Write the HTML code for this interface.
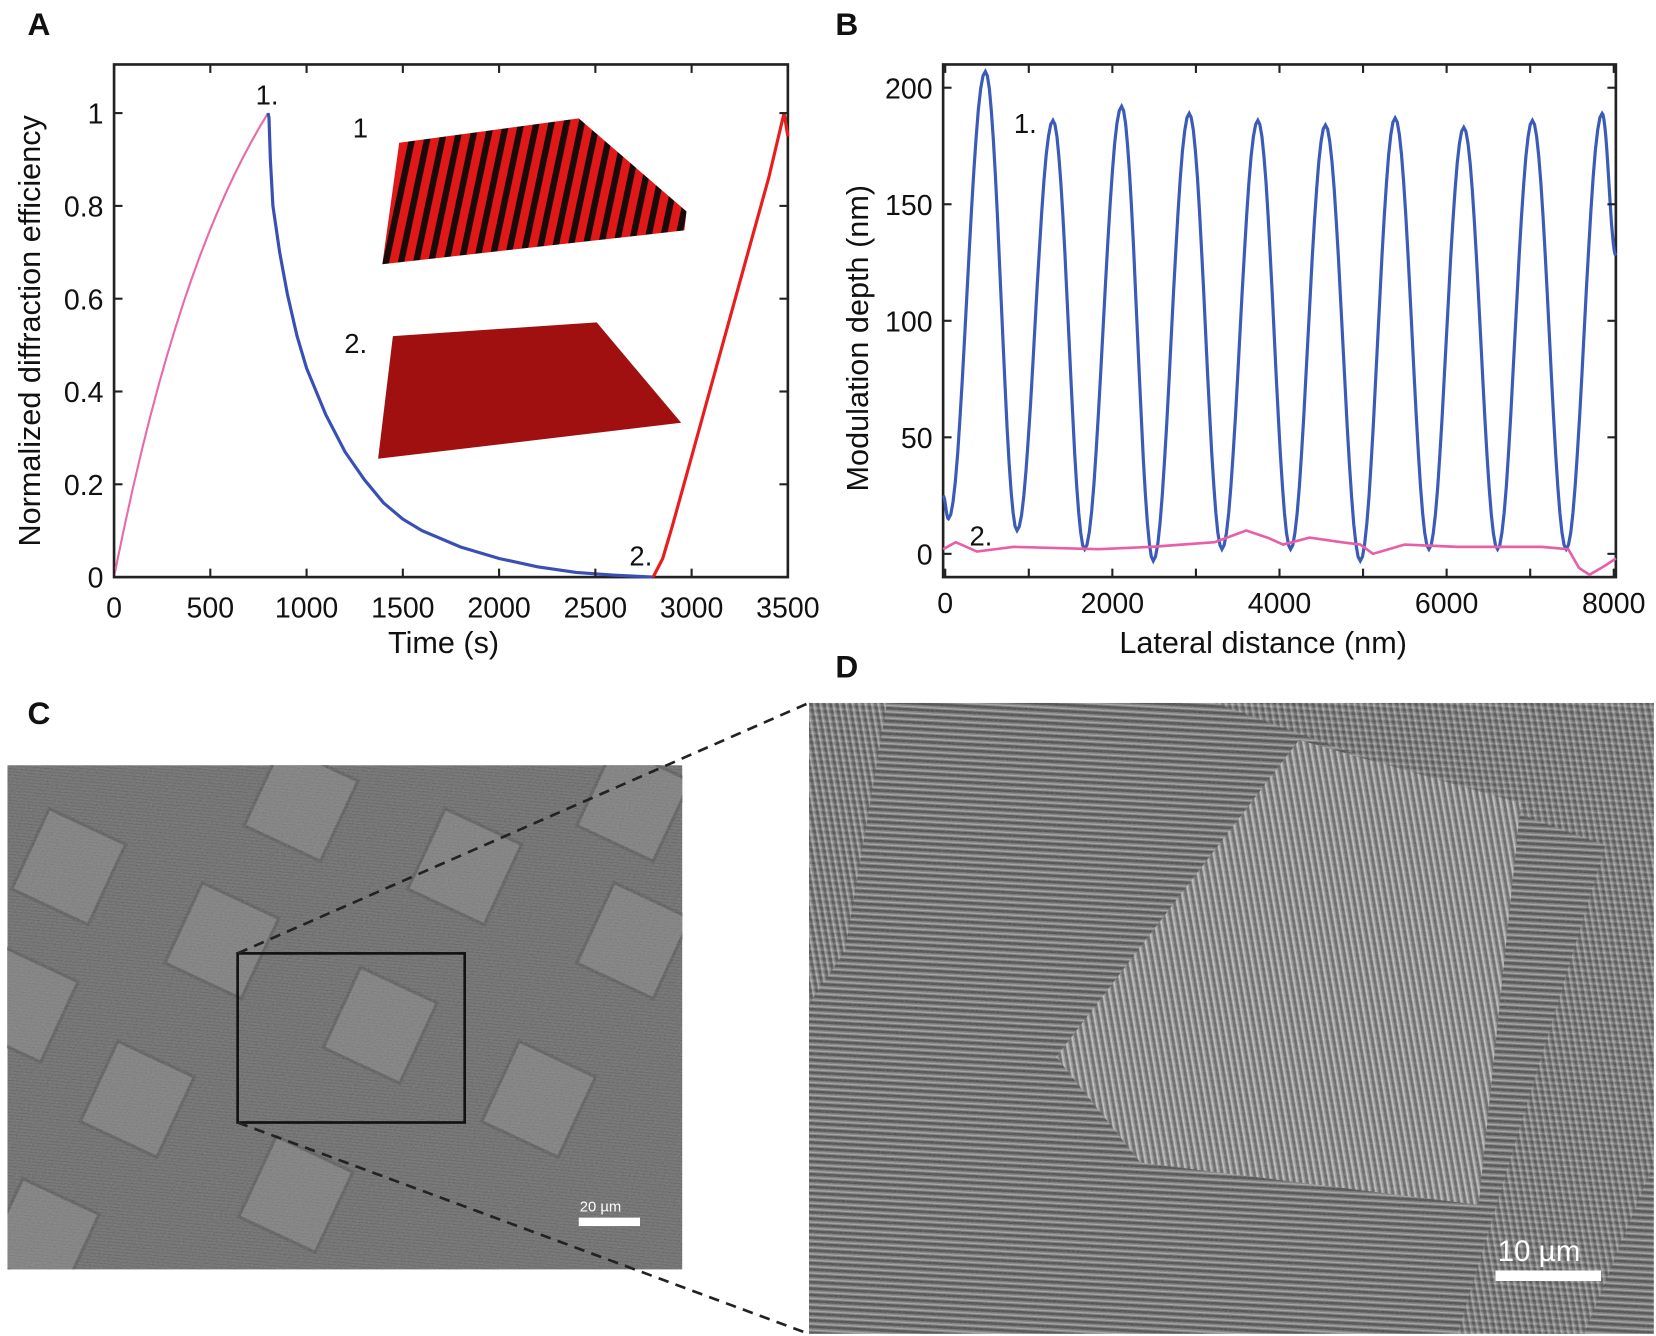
<!DOCTYPE html>
<html><head><meta charset="utf-8"><style>
html,body{margin:0;padding:0;background:#fff;}
svg{display:block;}
text{font-family:"Liberation Sans",sans-serif;fill:#111;}
</style></head><body>
<svg id="s" width="1656" height="1336" viewBox="0 0 1568 1264" preserveAspectRatio="none" xmlns="http://www.w3.org/2000/svg">
<defs>
<pattern id="grat" width="14" height="14" patternUnits="userSpaceOnUse" patternTransform="rotate(12)">
<rect width="14" height="14" fill="#e01818"/><rect width="6" height="14" fill="#1a0a0a"/>
</pattern>
<filter id="noise" x="0" y="0" width="100%" height="100%">
<feTurbulence type="fractalNoise" baseFrequency="0.45 0.9" numOctaves="2" seed="3"/>
<feColorMatrix type="matrix" values="0 0 0 0 0.5  0 0 0 0 0.5  0 0 0 0 0.5  0.9 0 0 0 0"/>
</filter>
<pattern id="lines" width="6" height="6" patternUnits="userSpaceOnUse" patternTransform="rotate(3)">
<rect width="6" height="6" fill="#7a7a7a"/><rect width="6" height="2.5" fill="#4a4a4a"/><rect y="4" width="6" height="1" fill="#a8a8a8"/>
</pattern>
<pattern id="lines2" width="6" height="6" patternUnits="userSpaceOnUse" patternTransform="rotate(80)">
<rect width="6" height="6" fill="#8a8a8a"/><rect width="6" height="2.5" fill="#4a4a4a"/><rect y="4" width="6" height="1.3" fill="#c8c8c8"/>
</pattern>
<pattern id="cpat" width="3" height="3" patternUnits="userSpaceOnUse" patternTransform="rotate(5)">
<rect width="3" height="3" fill="#6e6e6e"/><rect width="3" height="1" fill="#5a5a5a"/>
</pattern>
<clipPath id="clipD"><rect x="766" y="665" width="800" height="597"/></clipPath>
<clipPath id="clipC"><rect x="7" y="724" width="639" height="477"/></clipPath>
</defs>

<text x="26" y="33" font-size="30" font-weight="bold">A</text>
<text x="791" y="33" font-size="30" font-weight="bold">B</text>
<text x="26" y="685" font-size="30" font-weight="bold">C</text>
<text x="791" y="641" font-size="30" font-weight="bold">D</text>

<g id="A">
<rect x="108" y="61" width="638" height="485" fill="none" stroke="#222" stroke-width="2.5"/>
<polygon points="378,135 548,112 650,200 648,218 362,250" fill="url(#grat)"/>
<polygon points="372,318 565,305 645,400 358,434" fill="#a01010"/>
<path id="pA1" fill="none" stroke="#e86aa8" stroke-width="2"/>
<path id="pA2" fill="none" stroke="#3a4fb5" stroke-width="3"/>
<path id="pA3" fill="none" stroke="#e81e1e" stroke-width="3"/>
<text x="242" y="99" font-size="26">1.</text>
<text x="334" y="130" font-size="26">1</text>
<text x="326" y="334" font-size="26">2.</text>
<text x="596" y="535" font-size="26">2.</text>
<text x="420" y="618" font-size="29" text-anchor="middle">Time (s)</text>
<text transform="translate(38,313) rotate(-90)" font-size="29" text-anchor="middle">Normalized diffraction efficiency</text>
<g id="tA"></g>
</g>

<g id="B">
<rect x="893" y="61" width="637" height="485" fill="none" stroke="#222" stroke-width="2.5"/>
<path id="pB1" fill="none" stroke="#3a5bb8" stroke-width="3"/>
<path id="pB2" fill="none" stroke="#e85fa8" stroke-width="2.5"/>
<text x="960" y="126" font-size="26">1.</text>
<text x="918" y="516" font-size="26">2.</text>
<text x="1196" y="618" font-size="29" text-anchor="middle">Lateral distance (nm)</text>
<text transform="translate(822,320) rotate(-90)" font-size="29" text-anchor="middle">Modulation depth (nm)</text>
<g id="tB"></g>
</g>

<g clip-path="url(#clipC)">
<rect x="7" y="724" width="639" height="477" fill="#6c6c6c"/>
<rect x="7" y="724" width="639" height="477" fill="url(#cpat)" opacity="0.6"/>
<g fill="#8c8c8c" stroke="#505050" stroke-width="3" opacity="0.55">
<g id="sq"></g>
</g>
<rect x="7" y="724" width="639" height="477" filter="url(#noise)" opacity="0.35"/>
</g>
<rect x="225" y="902" width="215" height="160" fill="none" stroke="#111" stroke-width="2.5"/>
<rect x="548" y="1152" width="58" height="8" fill="#fff"/>
<text x="549" y="1146" font-size="14" style="fill:#fff">20 µm</text>

<g clip-path="url(#clipD)">
<rect x="766" y="665" width="800" height="597" fill="url(#lines)"/>
<polygon points="1150,665 1566,665 1566,1100 1500,1262 1380,1262 1520,800" fill="url(#lines2)" opacity="0.5"/>
<polygon points="766,665 840,665 800,900 766,950" fill="url(#lines2)" opacity="0.6"/>
<polygon points="1230,700 1440,760 1400,1140 1080,1100 1000,1000" fill="url(#lines2)" opacity="0.85"/>
<polygon points="1230,700 1440,760 1400,1140 1080,1100 1000,1000" fill="#fff" opacity="0.12"/>
<rect x="766" y="665" width="800" height="597" filter="url(#noise)" opacity="0.35"/>
</g>
<rect x="1416" y="1202" width="100" height="10" fill="#fff"/>
<text x="1418" y="1193" font-size="28" style="fill:#fff">10 µm</text>

<line x1="225" y1="902" x2="766" y2="665" stroke="#222" stroke-width="2.5" stroke-dasharray="10,7"/>
<line x1="225" y1="1062" x2="766" y2="1262" stroke="#222" stroke-width="2.5" stroke-dasharray="10,7"/>
</svg>
<script>
var NS="http://www.w3.org/2000/svg";
function el(p,tag,a,txt){var e=document.createElementNS(NS,tag);for(var k in a)e.setAttribute(k,a[k]);if(txt!==undefined)e.textContent=txt;p.appendChild(e);return e;}
var ax=function(t){return 108+t*638/3500}, ay=function(v){return 546-v*439};
var d="";for(var t=0;t<=800;t+=10){var v=(1-Math.exp(-t/700))/(1-Math.exp(-800/700));d+=(t?"L":"M")+ax(t).toFixed(1)+","+ay(v).toFixed(1);}
document.getElementById("pA1").setAttribute("d",d);
var bp=[[800,1],[805,0.99],[812,0.9],[825,0.8],[860,0.7],[900,0.61],[950,0.52],[1000,0.45],[1100,0.35],[1200,0.27],[1300,0.21],[1400,0.16],[1500,0.125],[1600,0.1],[1800,0.065],[2000,0.04],[2200,0.022],[2400,0.01],[2600,0.004],[2800,0]];
d=bp.map(function(p,i){return (i?"L":"M")+ax(p[0]).toFixed(1)+","+ay(p[1]).toFixed(1)}).join("");
document.getElementById("pA2").setAttribute("d",d);
var rp=[[2800,0],[2850,0.04],[2900,0.11],[3000,0.26],[3100,0.41],[3200,0.56],[3300,0.71],[3400,0.86],[3480,1],[3500,0.95]];
d=rp.map(function(p,i){return (i?"L":"M")+ax(p[0]).toFixed(1)+","+ay(p[1]).toFixed(1)}).join("");
document.getElementById("pA3").setAttribute("d",d);
var tA=document.getElementById("tA");
for(var t=0;t<=3500;t+=500){var x=ax(t);el(tA,"line",{x1:x,y1:546,x2:x,y2:538,stroke:"#222","stroke-width":2});el(tA,"line",{x1:x,y1:61,x2:x,y2:69,stroke:"#222","stroke-width":2});el(tA,"text",{x:x,y:584,"font-size":27,"text-anchor":"middle"},t);}
for(var i=0;i<=5;i++){var v=i*0.2,y=ay(v);el(tA,"line",{x1:108,y1:y,x2:116,y2:y,stroke:"#222","stroke-width":2});el(tA,"line",{x1:746,y1:y,x2:738,y2:y,stroke:"#222","stroke-width":2});el(tA,"text",{x:98,y:y+10,"font-size":27,"text-anchor":"end"},i==0?"0":i==5?"1":v.toFixed(1));}
var bx=function(n){return 895+n*633/8000}, by=function(v){return 524-v*2.205};
var ext=[[893,25],[898,15],[933,207],[963,10],[997,186],[1027,2],[1062,192],[1092,-3],[1126,189],[1157,2],[1191,186],[1222,2],[1255,184],[1288,-3],[1321,187],[1353,2],[1386,183],[1418,2],[1451,186],[1483,2],[1517,189],[1530,128]];
d="M"+ext[0][0]+","+by(ext[0][1]);
for(var i=1;i<ext.length;i++){var a=ext[i-1],b=ext[i];for(var k=1;k<=16;k++){var f=k/16,s=(1-Math.cos(Math.PI*f))/2;d+="L"+(a[0]+(b[0]-a[0])*f).toFixed(1)+","+by(a[1]+(b[1]-a[1])*s).toFixed(1);}}
document.getElementById("pB1").setAttribute("d",d);
var pk=[[893,2],[905,5],[925,1],[960,3],[1040,2],[1090,3],[1150,5],[1180,10],[1200,7],[1215,4],[1240,7],[1270,5],[1288,4],[1300,0],[1330,4],[1380,3],[1460,3],[1485,2],[1495,-6],[1505,-9],[1520,-5],[1530,-2]];
d=pk.map(function(p,i){return (i?"L":"M")+p[0]+","+by(p[1]).toFixed(1)}).join("");
document.getElementById("pB2").setAttribute("d",d);
var tB=document.getElementById("tB");
for(var n=0;n<=8000;n+=2000){var x=bx(n);el(tB,"text",{x:x,y:580,"font-size":27,"text-anchor":"middle"},n);}
for(var n=0;n<=8000;n+=1000){var x=bx(n);el(tB,"line",{x1:x,y1:546,x2:x,y2:538,stroke:"#222","stroke-width":2});el(tB,"line",{x1:x,y1:61,x2:x,y2:69,stroke:"#222","stroke-width":2});}
for(var v=0;v<=200;v+=50){var y=by(v);el(tB,"line",{x1:893,y1:y,x2:901,y2:y,stroke:"#222","stroke-width":2});el(tB,"line",{x1:1530,y1:y,x2:1522,y2:y,stroke:"#222","stroke-width":2});el(tB,"text",{x:883,y:y+10,"font-size":27,"text-anchor":"end"},v);}
var sq=document.getElementById("sq");
var cs=[[65,820],[285,760],[440,820],[600,890],[210,890],[360,970],[130,1040],[510,1040],[280,1130],[40,1170],[600,760],[20,950]];
cs.forEach(function(c){el(sq,"rect",{x:c[0]-40,y:c[1]-42,width:80,height:84,transform:"rotate(25 "+c[0]+" "+c[1]+")"});});
</script>
</body></html>
